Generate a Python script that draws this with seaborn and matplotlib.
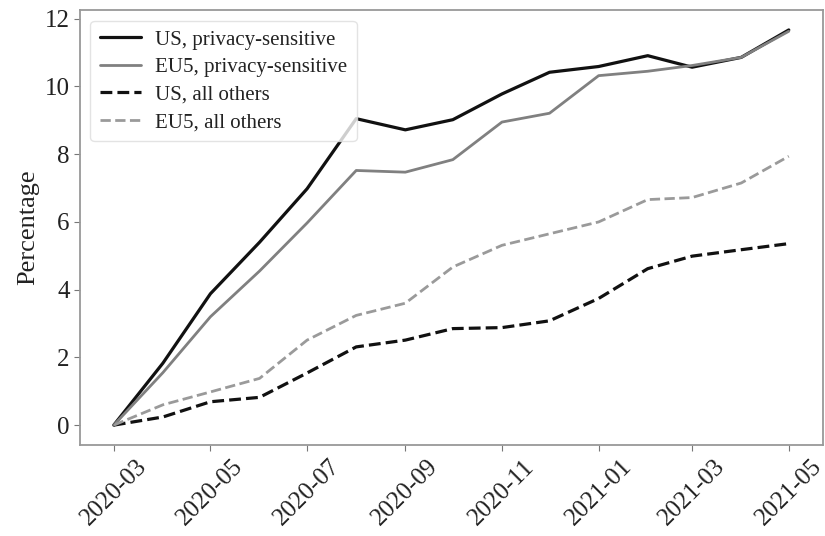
import numpy as np
import pandas as pd
import matplotlib
matplotlib.use("Agg")
import matplotlib.pyplot as plt
import matplotlib.dates as mdates
import seaborn as sns

months = pd.date_range("2020-03-01", "2021-05-01", freq="MS")

us_privacy = [0.0, 1.83, 3.88, 5.4, 6.98, 9.05, 8.72, 9.02, 9.78, 10.42, 10.59, 10.91, 10.57, 10.86, 11.67]
eu5_privacy = [0.0, 1.55, 3.2, 4.55, 5.97, 7.52, 7.47, 7.84, 8.95, 9.21, 10.32, 10.45, 10.62, 10.86, 11.63]
us_others = [0.0, 0.24, 0.69, 0.82, 1.54, 2.31, 2.51, 2.85, 2.88, 3.08, 3.74, 4.62, 4.99, 5.18, 5.36]
eu5_others = [0.0, 0.6, 0.98, 1.38, 2.51, 3.24, 3.6, 4.67, 5.31, 5.65, 6.0, 6.66, 6.72, 7.15, 7.94]

series_names = ["US, privacy-sensitive", "EU5, privacy-sensitive", "US, all others", "EU5, all others"]

df = pd.DataFrame({
    "month": np.tile(months, 4),
    "value": us_privacy + eu5_privacy + us_others + eu5_others,
    "series": np.repeat(series_names, len(months)),
})

sns.set_style("ticks")
plt.rcParams["font.family"] = ["Liberation Serif", "DejaVu Serif"]

fig = plt.figure(figsize=(8.25, 5.36), dpi=100)
ax = fig.add_axes([0.097, 0.170, 0.900, 0.811])

palette = {
    "US, privacy-sensitive": "#111111",
    "EU5, privacy-sensitive": "#808080",
    "US, all others": "#111111",
    "EU5, all others": "#9a9a9a",
}
dashes = {
    "US, privacy-sensitive": "",
    "EU5, privacy-sensitive": "",
    "US, all others": (3.7, 1.6),
    "EU5, all others": (3.7, 1.6),
}
sns.lineplot(data=df, x="month", y="value", hue="series", style="series",
             palette=palette, dashes=dashes, hue_order=series_names,
             style_order=series_names, linewidth=2.0, ax=ax)
# the black series are drawn a touch heavier than the grey ones
for line, name in zip(ax.get_lines(), series_names):
    if palette[name] == "#111111":
        line.set_linewidth(2.3)

ax.xaxis.set_major_locator(mdates.MonthLocator(bymonth=[1, 3, 5, 7, 9, 11]))
ax.xaxis.set_major_formatter(mdates.DateFormatter("%Y-%m"))
ax.set_yticks([0, 2, 4, 6, 8, 10, 12])
ax.margins(x=0.05, y=0.05)
ax.tick_params(axis="both", labelsize=18, color="#777777", length=4, labelcolor="#222222")
plt.setp(ax.get_xticklabels(), rotation=45, ha="center")
ax.set_xlabel("")
ax.set_ylabel("Percentage", fontsize=19, color="#222222")
for s in ax.spines.values():
    s.set_color("#999999")
    s.set_linewidth(1.3)

leg = ax.legend(loc="upper left", fontsize=15, frameon=True, title=None,
                handlelength=2.0, borderpad=0.45, labelspacing=0.38,
                handletextpad=0.65)
leg.get_frame().set_edgecolor("#dddddd")
for t in leg.get_texts():
    t.set_color("#222222")
for h, name in zip(leg.get_lines(), series_names):
    h.set_linewidth(2.3 if palette[name] == "#111111" else 2.0)

fig.savefig("out.png", dpi=100)
